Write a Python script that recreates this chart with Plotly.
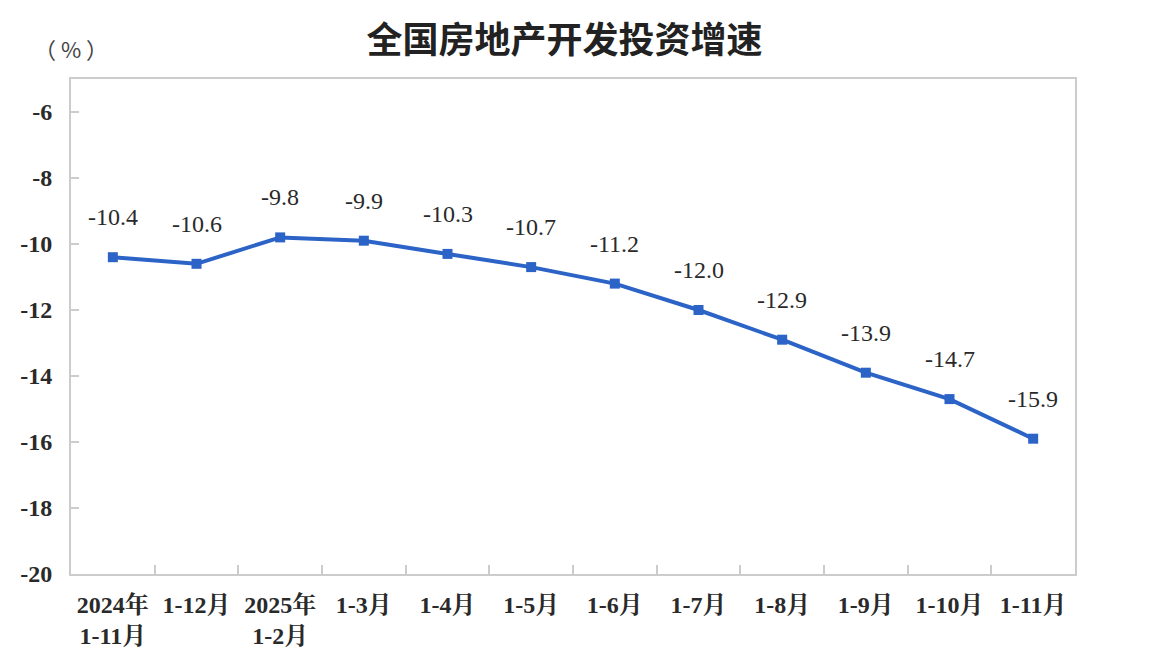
import plotly.graph_objects as go

categories = ["2024年<br>1-11月", "1-12月", "2025年<br>1-2月", "1-3月", "1-4月", "1-5月",
              "1-6月", "1-7月", "1-8月", "1-9月", "1-10月", "1-11月"]
values = [-10.4, -10.6, -9.8, -9.9, -10.3, -10.7, -11.2, -12.0, -12.9, -13.9, -14.7, -15.9]
value_labels = ["-10.4", "-10.6", "-9.8", "-9.9", "-10.3", "-10.7", "-11.2", "-12.0",
                "-12.9", "-13.9", "-14.7", "-15.9"]
y_ticks = [-20, -18, -16, -14, -12, -10, -8, -6]

serif = "Liberation Serif, Times New Roman, Noto Serif CJK SC, Noto Sans CJK SC, serif"
line_color = "#2b63c6"
axis_color = "#cccccc"
text_color = "#2a2a2a"

fig = go.Figure()
fig.add_trace(go.Scatter(
    x=categories, y=values, mode="lines+markers",
    line=dict(color=line_color, width=4),
    marker=dict(symbol="square", size=10, color=line_color),
    hoverinfo="skip", showlegend=False,
))

for c, v, t in zip(categories, values, value_labels):
    fig.add_annotation(x=c, y=v, text=t, showarrow=False, yshift=40,
                       font=dict(family=serif, size=24, color=text_color))

fig.add_annotation(xref="paper", yref="paper", x=0.0, y=1.0, yshift=31,
                   text="（ % ）", showarrow=False, xanchor="center", yanchor="middle",
                   font=dict(family="Noto Sans CJK SC, sans-serif", size=22, color="#444444"))

fig.update_layout(
    width=1152, height=672,
    paper_bgcolor="white", plot_bgcolor="white",
    margin=dict(l=61, r=85, t=71, b=106),
    title=dict(text="全国房地产开发投资增速", x=0.483, xanchor="center", y=0.952, yanchor="middle",
               font=dict(family="Noto Sans CJK SC, sans-serif", size=36, color="#222222",
                         weight=600)),
    xaxis=dict(
        type="category", tickson="boundaries", ticks="inside", ticklen=9, tickwidth=1.5,
        tickcolor=axis_color, showline=True, linecolor=axis_color, linewidth=2, mirror=True,
        showgrid=False, zeroline=False, range=[-0.5, 11.5], ticklabelstandoff=8,
        tickfont=dict(family=serif, size=24, color=text_color, weight="bold"), tickangle=0,
    ),
    yaxis=dict(
        range=[-20, -5], tickvals=y_ticks, ticktext=[str(t) for t in y_ticks],
        ticks="inside", ticklen=8, tickwidth=1.5, tickcolor=axis_color,
        showline=True, linecolor=axis_color, linewidth=2, mirror=True,
        showgrid=False, zeroline=False, ticklabelstandoff=12,
        tickfont=dict(family=serif, size=24, color=text_color, weight="bold"),
    ),
)

fig.write_html("out.html")
